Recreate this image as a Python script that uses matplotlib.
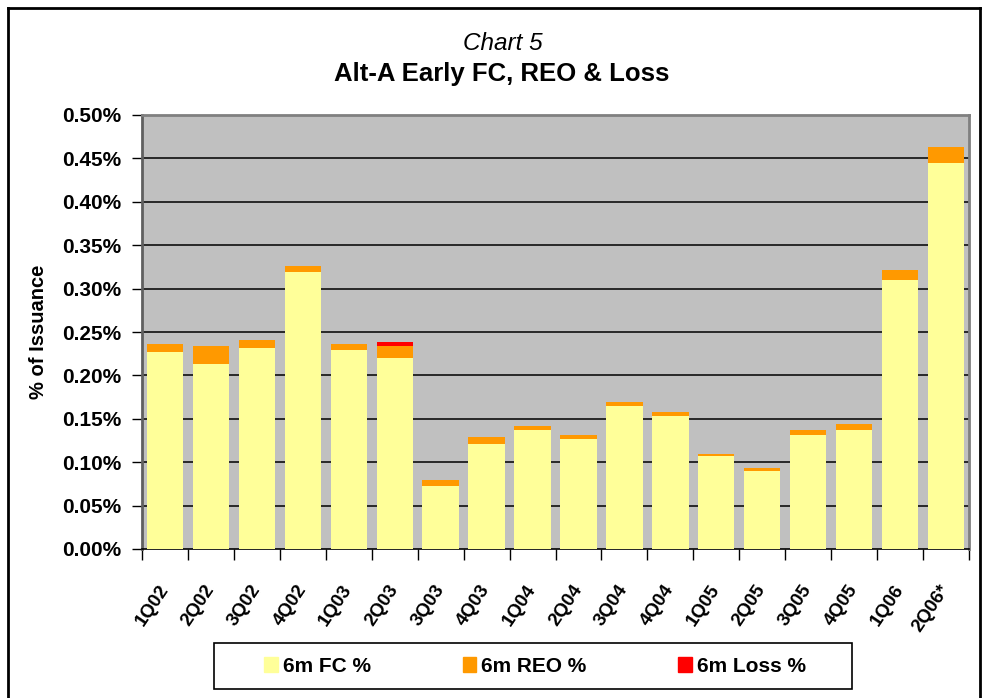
import matplotlib.pyplot as plt
import matplotlib.patches as mpatches
import matplotlib.lines as mlines
import numpy as np

plt.rcParams['font.family'] = ['Liberation Sans', 'DejaVu Sans']

quarters = ['1Q02', '2Q02', '3Q02', '4Q02', '1Q03', '2Q03', '3Q03', '4Q03',
            '1Q04', '2Q04', '3Q04', '4Q04', '1Q05', '2Q05', '3Q05', '4Q05',
            '1Q06', '2Q06*']
# values in % of issuance
fc_pct = [0.227, 0.213, 0.2315, 0.319, 0.229, 0.220, 0.073, 0.1215, 0.1366,
          0.1273, 0.1644, 0.1528, 0.1076, 0.0903, 0.1319, 0.1366, 0.310, 0.4445]
reo_pct = [0.009, 0.021, 0.009, 0.0075, 0.007, 0.014, 0.007, 0.007, 0.0046,
           0.0035, 0.0046, 0.0046, 0.0024, 0.0035, 0.0047, 0.007, 0.012, 0.0185]
loss_pct = [0, 0, 0, 0, 0, 0.0046, 0, 0, 0, 0, 0, 0, 0, 0, 0, 0, 0, 0]
y_ticks = [0.00, 0.05, 0.10, 0.15, 0.20, 0.25, 0.30, 0.35, 0.40, 0.45, 0.50]

fc_col = '#FFFF99'
reo_col = '#FF9900'
loss_col = '#FF0000'

fig = plt.figure(figsize=(9.89, 6.98), dpi=100)
ax = fig.add_axes([142 / 989, 1 - 549 / 698, 827 / 989, 434 / 698])
ax.set_facecolor('#C0C0C0')

x = np.arange(len(quarters))
fc = np.array(fc_pct)
reo = np.array(reo_pct)
loss = np.array(loss_pct)
ax.bar(x, fc, width=0.79, color=fc_col, zorder=3, label='6m FC %')
ax.bar(x, reo, width=0.79, bottom=fc, color=reo_col, zorder=3, label='6m REO %')
ax.bar(x, loss, width=0.79, bottom=fc + reo, color=loss_col, zorder=3, label='6m Loss %')

ax.set_xlim(-0.5, len(quarters) - 0.5)
ax.set_ylim(0, 0.5)
ax.set_yticks(y_ticks)
ax.set_yticklabels([f'{v:.2f}%' for v in y_ticks], fontsize=15, fontweight='bold')
for v in y_ticks[1:-1]:
    ax.axhline(v, color='black', lw=1.1, zorder=1)

ax.set_xticks(x)
ax.set_xticklabels(quarters, rotation=56, ha='right', va='center',
                   rotation_mode='anchor', fontsize=13.5, fontweight='bold')
ax.tick_params(axis='x', which='major', length=0, pad=27)
ax.set_xticks(np.arange(-0.5, len(quarters)), minor=True)
ax.tick_params(axis='x', which='minor', length=8, width=1, color='black', direction='out')
ax.tick_params(axis='y', length=7, width=1, color='black', direction='out', pad=8)

for s in ['top', 'right', 'left']:
    ax.spines[s].set_color('#808080')
    ax.spines[s].set_linewidth(2)
ax.spines['left'].set_color('#606060')
ax.spines['bottom'].set_color('black')
ax.spines['bottom'].set_linewidth(1.2)

ax.set_ylabel('% of Issuance', fontsize=14.5, fontweight='bold', labelpad=10)

fig.text(503 / 989, 1 - 43 / 698, 'Chart 5', ha='center', va='center',
         fontsize=17.5, style='italic')
fig.text(502 / 989, 1 - 74 / 698, 'Alt-A Early FC, REO & Loss', ha='center',
         va='center', fontsize=18.5, fontweight='bold')

# outer chart border
for xs, ys in [([8, 8], [0, 690]), ([8, 980], [690, 690]), ([980, 980], [0, 690])]:
    fig.add_artist(mlines.Line2D([v / 989 for v in xs], [v / 698 for v in ys],
                                 color='black', lw=2))

# legend box
fig.add_artist(mpatches.Rectangle((214 / 989, 1 - 689 / 698), 638 / 989, 46 / 698,
                                  transform=fig.transFigure, fill=True,
                                  facecolor='white', edgecolor='black', lw=1.2))
handles = [mpatches.Patch(color=fc_col), mpatches.Patch(color=reo_col),
           mpatches.Patch(color=loss_col)]
fig.legend(handles, ['6m FC %', '6m REO %', '6m Loss %'], loc='center',
           bbox_to_anchor=(535 / 989, 1 - 666 / 698), ncol=3, frameon=False,
           prop={'size': 15, 'weight': 'bold'}, handlelength=0.65,
           handleheight=0.75, handletextpad=0.25, columnspacing=4.4)

fig.savefig('out.png', dpi=100, facecolor='white')
